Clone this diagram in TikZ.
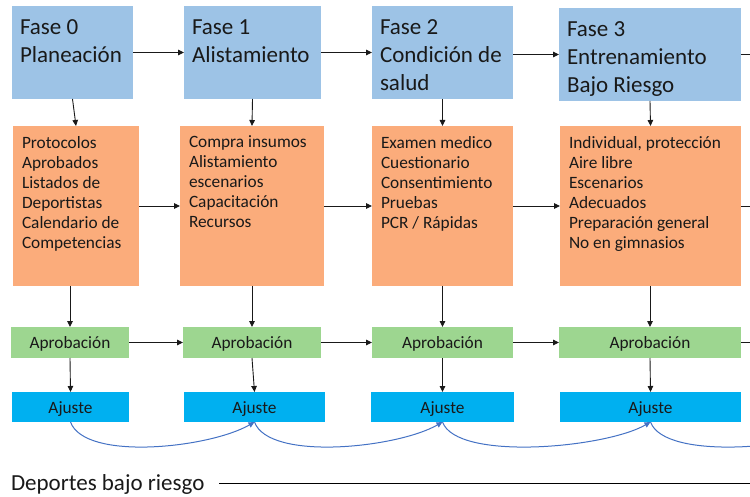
\documentclass[tikz,border=0pt]{standalone}
\usepackage{fontspec}
\setmainfont{Carlito}
\usepackage{xcolor}
\usepackage{tikz}
\usetikzlibrary{calc}
\usetikzlibrary{arrows.meta}
\usetikzlibrary{positioning}

\definecolor{faseblue}{RGB}{157,195,230}
\definecolor{tareaorange}{RGB}{251,172,123}
\definecolor{okgreen}{RGB}{157,214,144}
\definecolor{ajusteblue}{RGB}{0,176,240}
\definecolor{linkblue}{RGB}{68,114,196}

\newcommand{\boxtxt}[3]{\parbox[t][#2][t]{#1}{\raggedright #3}}

\begin{document}
\begin{tikzpicture}[x=1pt, y=1pt,
  every node/.style={outer sep=0pt, text=black!90},
  fase/.style={fill=faseblue, anchor=north west, inner xsep=8pt, inner ysep=14pt, font=\fontsize{23}{28}\selectfont},
  tarea/.style={fill=tareaorange, anchor=north west, inner xsep=9pt, inner ysep=10pt, font=\fontsize{17.3}{20}\selectfont},
  paso/.style={anchor=north west, inner sep=0pt, minimum height=31pt, text height=14pt, text depth=2pt, font=\fontsize{17.3}{20}\selectfont},
  flecha/.style={-{Triangle[length=6pt,width=5.5pt]}, line width=0.9pt, black!90},
  enlace/.style={-{Triangle[length=6pt,width=5.5pt]}, line width=1pt, linkblue}]

  \useasboundingbox (0,0) rectangle (750,-497);
  \clip (0,0) rectangle (750,-497);

  \node[fase] (top0) at (12,-6) {\boxtxt{105pt}{65pt}{Fase 0\\Planeación}};
  \node[fase] (top1) at (184,-6) {\boxtxt{121pt}{65pt}{Fase 1\\Alistamiento}};
  \node[fase] (top2) at (372,-6) {\boxtxt{125pt}{65pt}{Fase 2\\Condición de\\salud}};
  \node[fase] (top3) at (559,-8) {\boxtxt{166pt}{65pt}{Fase 3\\Entrenamiento\\Bajo Riesgo}};

  \node[tarea] (mid0) at (13,-126) {\boxtxt{108pt}{140pt}{Protocolos\\Aprobados\\Listados de\\Deportistas\\Calendario de\\Competencias}};
  \node[tarea] (mid1) at (180,-126) {\boxtxt{126pt}{140pt}{Compra insumos\\Alistamiento\\escenarios\\Capacitación\\Recursos}};
  \node[tarea] (mid2) at (372,-126) {\boxtxt{123pt}{140pt}{Examen medico\\Cuestionario\\Consentimiento\\Pruebas\\PCR / Rápidas}};
  \node[tarea] (mid3) at (560,-126) {\boxtxt{163pt}{140pt}{Individual, protección\\Aire libre\\Escenarios\\Adecuados\\Preparación general\\No en gimnasios}};

  \node[paso, fill=okgreen, minimum width=118pt] (green0) at (11,-327) {Aprobación};
  \node[paso, fill=okgreen, minimum width=138pt] (green1) at (183,-327) {Aprobación};
  \node[paso, fill=okgreen, minimum width=141pt] (green2) at (372,-327) {Aprobación};
  \node[paso, fill=okgreen, minimum width=182pt] (green3) at (559,-327) {Aprobación};

  \node[paso, fill=ajusteblue, minimum width=117pt, minimum height=30pt] (aj0) at (12,-392) {Ajuste};
  \node[paso, fill=ajusteblue, minimum width=141pt, minimum height=30pt] (aj1) at (184,-392) {Ajuste};
  \node[paso, fill=ajusteblue, minimum width=143pt, minimum height=30pt] (aj2) at (371,-392) {Ajuste};
  \node[paso, fill=ajusteblue, minimum width=181pt, minimum height=30pt] (aj3) at (560,-392) {Ajuste};

  \coordinate (edge) at (770,0);
  \coordinate (aj4) at (850,-422);

  \foreach \a/\b in {0/1,1/2,2/3} {
    \draw[flecha] (top\a.east |- top\b.west) -- (top\b.west);
    \draw[flecha] (mid\a.east) -- (mid\b.west);
    \draw[flecha] (green\a.east) -- (green\b.west);
    \draw[enlace] (aj\a.south) .. controls +(-70:42) and +(-150:52) .. (aj\b.south);
  }
  \foreach \n in {top3, mid3, green3}
    \draw[flecha] (\n.east) -- (\n.east -| edge);
  \draw[enlace] (aj3.south) .. controls +(-70:42) and +(-150:52) .. (aj4);

  \foreach \i in {0,...,3} {
    \draw[flecha] (top\i.south) -- (mid\i.north);
    \draw[flecha] (green\i.north |- mid\i.south) -- (green\i.north);
    \draw[flecha] (green\i.south) -- (aj\i.north);
  }

  \node[anchor=base west, inner sep=0pt, font=\fontsize{23}{28}\selectfont] (dep) at (11,-490) {Deportes bajo riesgo};
  \draw[line width=1pt] ([xshift=15pt]dep.east) -- (dep.east -| edge);
\end{tikzpicture}
\end{document}
